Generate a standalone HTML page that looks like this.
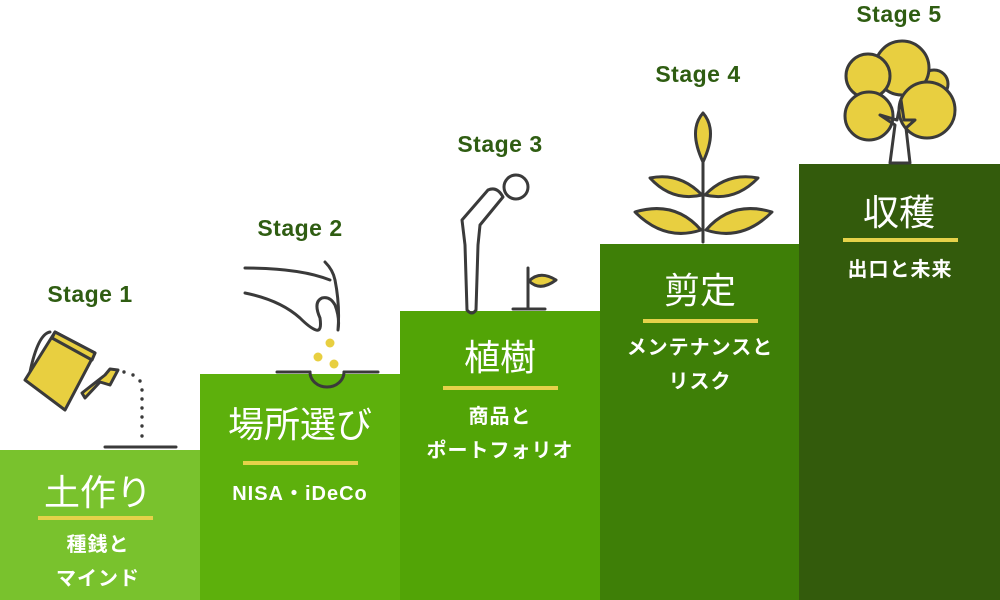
<!DOCTYPE html>
<html><head><meta charset="utf-8"><style>
html,body{margin:0;padding:0;background:#fff;}
svg{display:block}
.st{font-family:"Liberation Sans","Noto Sans CJK JP",sans-serif;font-weight:bold;font-size:23px;fill:#2f5d12;letter-spacing:0.5px}
.t{font-family:"Liberation Sans","Noto Sans CJK JP",sans-serif;font-size:36px;fill:#fff}
.s{font-family:"Liberation Sans","Noto Sans CJK JP",sans-serif;font-size:20px;font-weight:bold;fill:#fff;letter-spacing:1px}
.ln{stroke:#3a3a3a;stroke-width:3;fill:none;stroke-linecap:round;stroke-linejoin:round}
.y{fill:#e8cf40;stroke:#3a3a3a;stroke-width:3;stroke-linejoin:round}
</style></head><body>
<svg width="1000" height="600" viewBox="0 0 1000 600" xmlns="http://www.w3.org/2000/svg">
<rect x="0" y="450" width="200" height="150" fill="#79c22d"/>
<rect x="200" y="374" width="200" height="226" fill="#5db00c"/>
<rect x="400" y="311" width="200" height="289" fill="#52a406"/>
<rect x="600" y="244" width="199" height="356" fill="#3e7f07"/>
<rect x="799" y="164" width="201" height="436" fill="#335b0c"/>

<text class="st" x="90" y="302" text-anchor="middle">Stage 1</text>
<text class="st" x="300" y="236" text-anchor="middle">Stage 2</text>
<text class="st" x="500" y="152" text-anchor="middle">Stage 3</text>
<text class="st" x="698" y="82" text-anchor="middle">Stage 4</text>
<text class="st" x="899" y="22" text-anchor="middle">Stage 5</text>

<text class="t" x="98" y="505" text-anchor="middle">土作り</text>
<rect x="38" y="516" width="115" height="4" fill="#e5d24a"/>
<text class="s" x="98" y="551" text-anchor="middle">種銭と</text>
<text class="s" x="98" y="585" text-anchor="middle">マインド</text>

<text class="t" x="300" y="437" text-anchor="middle">場所選び</text>
<rect x="243" y="461" width="115" height="4" fill="#e5d24a"/>
<text class="s" x="300" y="500" text-anchor="middle">NISA・iDeCo</text>

<text class="t" x="500" y="370" text-anchor="middle">植樹</text>
<rect x="443" y="386" width="115" height="4" fill="#e5d24a"/>
<text class="s" x="500" y="423" text-anchor="middle">商品と</text>
<text class="s" x="500" y="457" text-anchor="middle">ポートフォリオ</text>

<text class="t" x="700" y="303" text-anchor="middle">剪定</text>
<rect x="643" y="319" width="115" height="4" fill="#e5d24a"/>
<text class="s" x="700" y="354" text-anchor="middle">メンテナンスと</text>
<text class="s" x="700" y="388" text-anchor="middle">リスク</text>

<text class="t" x="899" y="225" text-anchor="middle">収穫</text>
<rect x="843" y="238" width="115" height="4" fill="#e5d24a"/>
<text class="s" x="900" y="276" text-anchor="middle">出口と未来</text>

<!-- watering can -->
<line x1="105" y1="447" x2="176" y2="447" class="ln"/>
<path d="M30 372 Q38 334 50 332" class="ln"/>
<path d="M25 380 L55 332 L95 353 L65 410 Z" class="y"/>
<path d="M55 332 L95 353 L92 360 L52 338Z" class="y"/>
<path d="M82 393 L105 375 L110 369 L118 370 L110 385 L100 382 L85 398Z" class="y"/>
<g fill="#3a3a3a"><circle cx="124" cy="372" r="1.7"/><circle cx="133" cy="375" r="1.7"/><circle cx="140" cy="381" r="1.7"/><circle cx="142" cy="390" r="1.7"/><circle cx="142" cy="399" r="1.7"/><circle cx="142" cy="408" r="1.7"/><circle cx="142" cy="417" r="1.7"/><circle cx="142" cy="426" r="1.7"/><circle cx="142" cy="436" r="1.7"/></g>

<!-- hand & seeds -->
<path d="M245 293 Q280 300 300 318 Q310 328 316 330 Q322 332 320 318 Q313 302 322 298 Q330 296 335 305 Q340 318 338 330 Q340 305 335 280 Q333 270 325 262" class="ln"/>
<path d="M245 268 Q300 268 330 280" class="ln"/>
<line x1="277" y1="372" x2="310" y2="372" class="ln"/>
<line x1="344" y1="372" x2="378" y2="372" class="ln"/>
<path d="M310 372 A17 15 0 0 0 344 372" class="ln"/>
<g fill="#e8cf40"><circle cx="330" cy="343" r="4.5"/><circle cx="318" cy="357" r="4.5"/><circle cx="334" cy="364" r="4.5"/></g>

<!-- bowing person -->
<circle cx="516" cy="187" r="12" class="ln" fill="#fff"/>
<path d="M467 310 L465 245 L462 220 L488 190 Q497 186 503 197 L480 225 L478 245 L476 310 Q472 316 467 310Z" class="ln" fill="#fff"/>
<line x1="528" y1="268" x2="528" y2="309" class="ln"/>
<line x1="513" y1="309" x2="545" y2="309" class="ln"/>
<path d="M529 281 Q540 270 556 280 Q540 292 529 281Z" class="y"/>

<!-- plant -->
<path d="M703 242 L703 140" class="ln"/>
<path d="M703 162 Q688 130 703 113 Q718 130 703 162Z" class="y"/>
<path d="M702 195 Q680 172 650 178 Q672 202 702 195Z" class="y"/>
<path d="M705 195 Q727 172 758 178 Q735 202 705 195Z" class="y"/>
<path d="M701 230 Q675 200 635 212 Q665 242 701 230Z" class="y"/>
<path d="M706 230 Q732 200 772 212 Q742 242 706 230Z" class="y"/>

<!-- tree -->
<circle cx="934" cy="84" r="14" class="y"/>
<circle cx="902" cy="68" r="27" class="y"/>
<circle cx="868" cy="76" r="22" class="y"/>
<circle cx="869" cy="116" r="24" class="y"/>
<circle cx="927" cy="110" r="28" class="y"/>
<path d="M890 163 L895 125 L880 115 L897 120 L901 100 L904 120 L915 120 L906 128 L910 163Z" class="ln" fill="#fff"/>
</svg>
</body></html>
